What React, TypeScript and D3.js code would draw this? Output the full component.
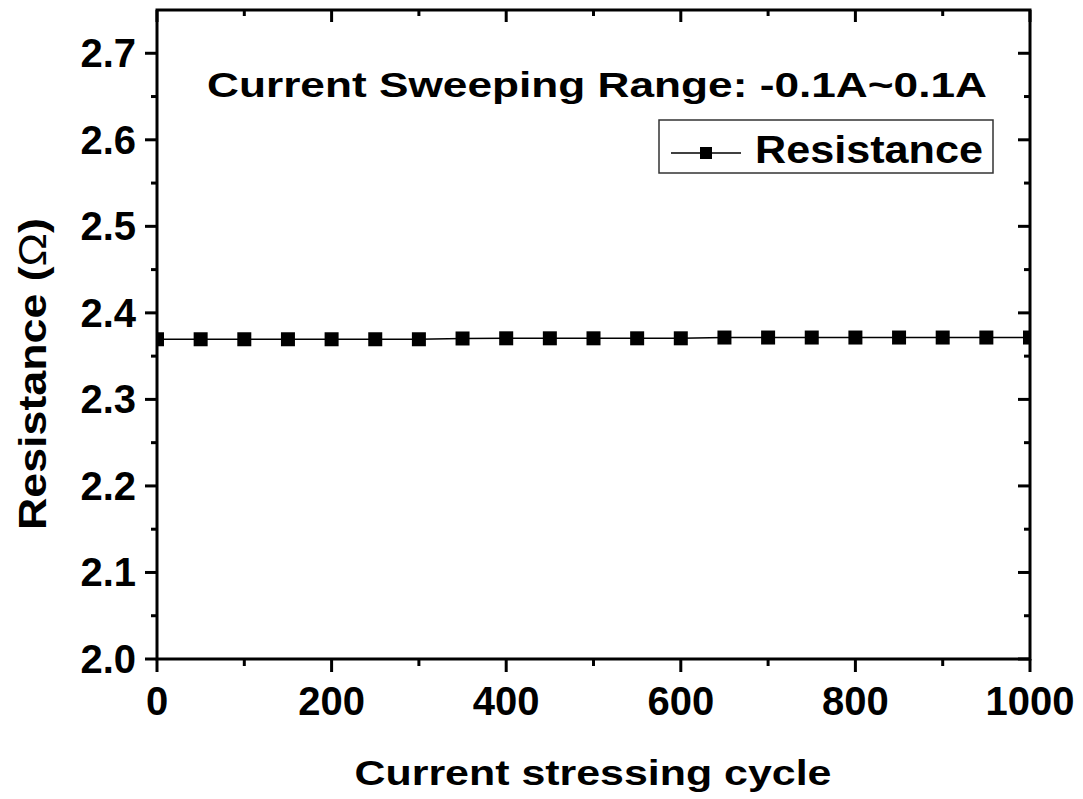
import React from "react";
import * as d3 from "d3";

const cycles = [0, 50, 100, 150, 200, 250, 300, 350, 400, 450, 500, 550, 600, 650, 700, 750, 800, 850, 900, 950, 1000];
const resistance = [2.3695, 2.3695, 2.3695, 2.3695, 2.3695, 2.3695, 2.3695, 2.3704, 2.3706, 2.3706, 2.3706, 2.3706, 2.3706, 2.3715, 2.3715, 2.3715, 2.3715, 2.3715, 2.3715, 2.3715, 2.3715];
const xMajorTicks = [0, 200, 400, 600, 800, 1000];
const xMinorTicks = [100, 300, 500, 700, 900];
const yMajorTicks = [2.0, 2.1, 2.2, 2.3, 2.4, 2.5, 2.6, 2.7];
const yMinorTicks = [2.05, 2.15, 2.25, 2.35, 2.45, 2.55, 2.65];
const seriesName = "Resistance";
const annotation = "Current Sweeping Range: -0.1A~0.1A";
const xTitle = "Current stressing cycle";
const yTitle = "Resistance (";

const W = 1083, H = 799;
const L = 157, R = 1030, T = 10, B = 659;
const FONT = "'Liberation Sans', Arial, sans-serif";

export default function App() {
  const x = d3.scaleLinear().domain([0, 1000]).range([L, R]);
  const y = d3.scaleLinear().domain([2.0, 2.75]).range([B, T]);
  const line = d3.line<number>().x((_, i) => x(cycles[i])).y((d) => y(d));
  const ms = 14;
  return (
    <svg width={W} height={H} style={{ position: "absolute", left: 0, top: 0, background: "#fff" }}>
      <defs>
        <clipPath id="plotclip">
          <rect x={L} y={T} width={R - L} height={B - T} />
        </clipPath>
      </defs>
      <rect x={0} y={0} width={W} height={H} fill="#fff" />
      <g clipPath="url(#plotclip)">
        <path d={line(resistance) || ""} fill="none" stroke="#000" strokeWidth={1.5} />
        {resistance.map((v, i) => (
          <rect key={i} x={x(cycles[i]) - ms / 2} y={y(v) - ms / 2} width={ms} height={ms} fill="#000" />
        ))}
      </g>
      {/* frame */}
      <rect x={L} y={T} width={R - L} height={B - T} fill="none" stroke="#000" strokeWidth={3} />
      {/* bottom ticks (outward) */}
      {xMajorTicks.map((t) => (
        <line key={"bx" + t} x1={x(t)} x2={x(t)} y1={B} y2={B + 13} stroke="#000" strokeWidth={3} />
      ))}
      {xMinorTicks.map((t) => (
        <line key={"bm" + t} x1={x(t)} x2={x(t)} y1={B} y2={B + 7} stroke="#000" strokeWidth={3} />
      ))}
      {/* top ticks (inward) */}
      {xMajorTicks.map((t) => (
        <line key={"tx" + t} x1={x(t)} x2={x(t)} y1={T} y2={T + 12} stroke="#000" strokeWidth={3} />
      ))}
      {xMinorTicks.map((t) => (
        <line key={"tm" + t} x1={x(t)} x2={x(t)} y1={T} y2={T + 6} stroke="#000" strokeWidth={3} />
      ))}
      {/* left ticks (outward) */}
      {yMajorTicks.map((t) => (
        <line key={"ly" + t} x1={L - 12} x2={L} y1={y(t)} y2={y(t)} stroke="#000" strokeWidth={3} />
      ))}
      {yMinorTicks.map((t) => (
        <line key={"lm" + t} x1={L - 6} x2={L} y1={y(t)} y2={y(t)} stroke="#000" strokeWidth={3} />
      ))}
      {/* right ticks (inward) */}
      {yMajorTicks.map((t) => (
        <line key={"ry" + t} x1={R - 12} x2={R} y1={y(t)} y2={y(t)} stroke="#000" strokeWidth={3} />
      ))}
      {yMinorTicks.map((t) => (
        <line key={"rm" + t} x1={R - 6} x2={R} y1={y(t)} y2={y(t)} stroke="#000" strokeWidth={3} />
      ))}
      {/* tick labels */}
      {xMajorTicks.map((t) => (
        <text key={"xl" + t} x={x(t)} y={715} textAnchor="middle" fontFamily={FONT} fontWeight="bold" fontSize={40} fill="#000">
          {String(t)}
        </text>
      ))}
      {yMajorTicks.map((t) => (
        <text key={"yl" + t} x={136} y={y(t) + 14} textAnchor="end" fontFamily={FONT} fontWeight="bold" fontSize={40} fill="#000">
          {t.toFixed(1)}
        </text>
      ))}
      {/* axis titles */}
      <text x={593} y={785} textAnchor="middle" fontFamily={FONT} fontWeight="bold" fontSize={35} fill="#000" textLength={477} lengthAdjust="spacingAndGlyphs">
        {xTitle}
      </text>
      <text transform="translate(46,374) rotate(-90)" textAnchor="middle" fontFamily={FONT} fontWeight="bold" fontSize={38} fill="#000" textLength={312} lengthAdjust="spacingAndGlyphs">
        {yTitle}
        <tspan fontWeight="normal">Ω</tspan>
        {")"}
      </text>
      {/* annotation */}
      <text x={207} y={97} fontFamily={FONT} fontWeight="bold" fontSize={35} fill="#000" textLength={780} lengthAdjust="spacingAndGlyphs">
        {annotation}
      </text>
      {/* legend */}
      <rect x={659} y={120} width={334} height={53} fill="#fff" stroke="#333" strokeWidth={1.5} />
      <line x1={671} x2={741} y1={153} y2={153} stroke="#000" strokeWidth={1.5} />
      <rect x={706 - 6} y={153 - 6} width={12} height={12} fill="#000" />
      <text x={755} y={163} fontFamily={FONT} fontWeight="bold" fontSize={38} fill="#000" textLength={228} lengthAdjust="spacingAndGlyphs">
        {seriesName}
      </text>
    </svg>
  );
}
